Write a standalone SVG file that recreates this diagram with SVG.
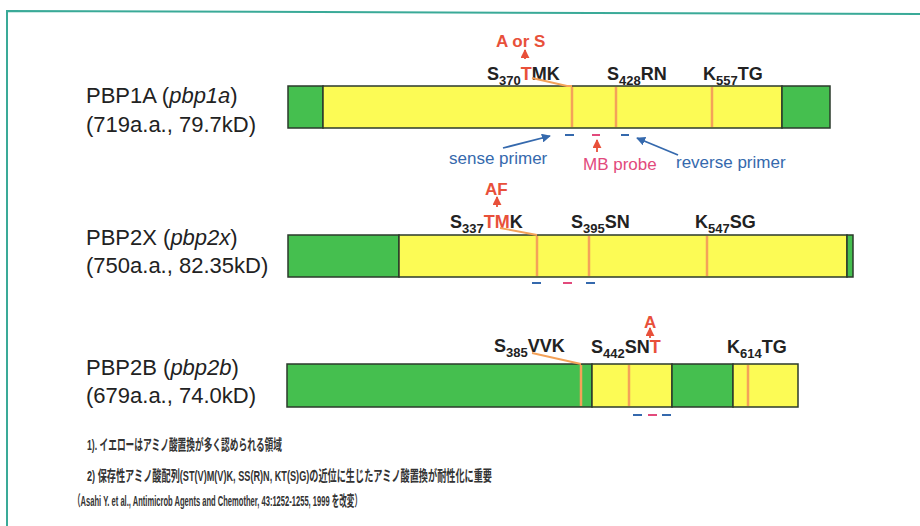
<svg xmlns="http://www.w3.org/2000/svg" width="920" height="526" viewBox="0 0 920 526">
<defs>
<style>
.g{fill:#45bf4f;stroke:#2b3a2b;stroke-width:1.5}
.y{fill:#fcfb55;stroke:#2b3a2b;stroke-width:1.5}
.site{stroke:#f4a259;stroke-width:2.5}
.lead{stroke:#f4a259;stroke-width:1.8;fill:none}
.name{font-family:"Liberation Sans",Arial,sans-serif;font-size:22px;fill:#222}
.aa{font-family:"Liberation Sans",Arial,sans-serif;font-size:18px;font-weight:bold;fill:#222}
.sub{font-size:13px}
.red{fill:#e8503a}
.mut{font-family:"Liberation Sans",Arial,sans-serif;font-size:17px;font-weight:bold;fill:#e8503a}
.pl{font-family:"Liberation Sans",Arial,sans-serif;font-size:17px}
.bl{fill:#3569ad}
.pk{fill:#e24a7c}
.dB{stroke:#3569ad;stroke-width:2}
.dP{stroke:#e24a7c;stroke-width:2}
.jp{font-family:"Liberation Sans","Noto Sans CJK JP",sans-serif;font-size:15px;font-weight:bold;fill:#333}
</style>
<marker id="ar" viewBox="0 0 10 10" refX="9" refY="5" markerWidth="5" markerHeight="5" orient="auto"><path d="M0,0 L10,5 L0,10 z" fill="#e8503a"/></marker>
<marker id="ab" viewBox="0 0 10 10" refX="9" refY="5" markerWidth="5" markerHeight="5" orient="auto"><path d="M0,0 L10,5 L0,10 z" fill="#3569ad"/></marker>
</defs>
<rect width="920" height="526" fill="#ffffff"/>
<g id="frame" fill="none" stroke="#3aaa98" stroke-width="2">
<path d="M7,526 L7,11 L920,14"/>
</g>

<g id="pbp1a">
<text class="name" x="86" y="103">PBP1A (<tspan font-style="italic">pbp1a</tspan>)</text>
<text class="name" x="86" y="132">(719a.a., 79.7kD)</text>
<rect class="g" x="288" y="86" width="35" height="42"/>
<rect class="y" x="323" y="86" width="459" height="42"/>
<rect class="g" x="782" y="86" width="48" height="42"/>
<line class="site" x1="572" y1="87" x2="572" y2="127"/>
<line class="site" x1="616" y1="87" x2="616" y2="127"/>
<line class="site" x1="712" y1="87" x2="712" y2="127"/>
<text class="aa" x="487" y="80">S<tspan class="sub" dy="5">370</tspan><tspan dy="-5" class="red">T</tspan>MK</text>
<text class="aa" x="607" y="80">S<tspan class="sub" dy="5">428</tspan><tspan dy="-5">RN</tspan></text>
<text class="aa" x="703" y="80">K<tspan class="sub" dy="5">557</tspan><tspan dy="-5">TG</tspan></text>
<text class="mut" x="496" y="47">A or S</text>
<line class="dB" x1="565" y1="135" x2="574" y2="135"/>
<line class="dP" x1="592" y1="135" x2="600" y2="135"/>
<line class="dB" x1="621" y1="135" x2="629" y2="135"/>
<text class="pl bl" x="449" y="164">sense primer</text>
<text class="pl pk" x="583" y="170">MB probe</text>
<text class="pl bl" x="676" y="168">reverse primer</text>
</g>

<g id="pbp2x">
<text class="name" x="86" y="245">PBP2X (<tspan font-style="italic">pbp2x</tspan>)</text>
<text class="name" x="86" y="273">(750a.a., 82.35kD)</text>
<rect class="g" x="288" y="235" width="111" height="42"/>
<rect class="y" x="399" y="235" width="448" height="42"/>
<rect class="g" x="847" y="235" width="6" height="42"/>
<line class="site" x1="537" y1="236" x2="537" y2="276"/>
<line class="site" x1="589" y1="236" x2="589" y2="276"/>
<line class="site" x1="707" y1="236" x2="707" y2="276"/>
<text class="aa" x="450" y="228">S<tspan class="sub" dy="5">337</tspan><tspan dy="-5" class="red">TM</tspan>K</text>
<text class="aa" x="571" y="228">S<tspan class="sub" dy="5">395</tspan><tspan dy="-5">SN</tspan></text>
<text class="aa" x="695" y="228">K<tspan class="sub" dy="5">547</tspan><tspan dy="-5">SG</tspan></text>
<text class="mut" x="485" y="195">AF</text>
<line class="dB" x1="532" y1="283" x2="541" y2="283"/>
<line class="dP" x1="563" y1="283" x2="572" y2="283"/>
<line class="dB" x1="586" y1="283" x2="595" y2="283"/>
</g>

<g id="pbp2b">
<text class="name" x="86" y="375">PBP2B (<tspan font-style="italic">pbp2b</tspan>)</text>
<text class="name" x="86" y="403">(679a.a., 74.0kD)</text>
<rect class="g" x="287" y="364" width="305" height="43"/>
<rect class="y" x="592" y="364" width="80" height="43"/>
<rect class="g" x="672" y="364" width="61" height="43"/>
<rect class="y" x="733" y="364" width="65" height="43"/>
<line class="site" x1="581" y1="365" x2="581" y2="406"/>
<line class="site" x1="629" y1="365" x2="629" y2="406"/>
<line class="site" x1="748" y1="365" x2="748" y2="406"/>
<text class="aa" x="494" y="352">S<tspan class="sub" dy="5">385</tspan><tspan dy="-5">VVK</tspan></text>
<text class="aa" x="591" y="353">S<tspan class="sub" dy="5">442</tspan><tspan dy="-5">SN</tspan><tspan class="red">T</tspan></text>
<text class="aa" x="727" y="353">K<tspan class="sub" dy="5">614</tspan><tspan dy="-5">TG</tspan></text>
<text class="mut" x="644" y="328">A</text>
<line class="dB" x1="633" y1="415" x2="642" y2="415"/>
<line class="dP" x1="648" y1="415" x2="657" y2="415"/>
<line class="dB" x1="662" y1="415" x2="671" y2="415"/>
</g>

<g id="connectors">
<path class="lead" d="M532,78 L567,86 L572,86"/>
<path class="lead" d="M500,228 L537,235"/>
<path class="lead" d="M532,353 L581,364"/>
<g stroke="#e8503a" stroke-width="1.8" fill="none">
<line x1="525" y1="59" x2="525" y2="50" marker-end="url(#ar)"/>
<line x1="497" y1="207" x2="497" y2="197" marker-end="url(#ar)"/>
<line x1="650" y1="338" x2="650" y2="328" marker-end="url(#ar)"/>
<line x1="597" y1="152" x2="597" y2="140" marker-end="url(#ar)"/>
</g>
<g stroke="#3569ad" stroke-width="1.8" fill="none">
<line x1="503" y1="148" x2="550" y2="136" marker-end="url(#ab)"/>
<line x1="678" y1="155" x2="637" y2="138" marker-end="url(#ab)"/>
</g>
</g>

<g id="notes">
<text class="jp" x="87" y="450" textLength="195" lengthAdjust="spacingAndGlyphs">1). イエローはアミノ酸置換が多く認められる領域</text>
<text class="jp" x="87" y="481" textLength="405" lengthAdjust="spacingAndGlyphs">2) 保存性アミノ酸配列(ST(V)M(V)K, SS(R)N, KT(S)G)の近位に生じたアミノ酸置換が耐性化に重要</text>
<text class="jp" x="73" y="506" font-size="12" font-weight="normal" textLength="289" lengthAdjust="spacingAndGlyphs">（Asahi Y. et al., Antimicrob Agents and Chemother, 43:1252-1255, 1999 を改変）</text>
</g>
</svg>
